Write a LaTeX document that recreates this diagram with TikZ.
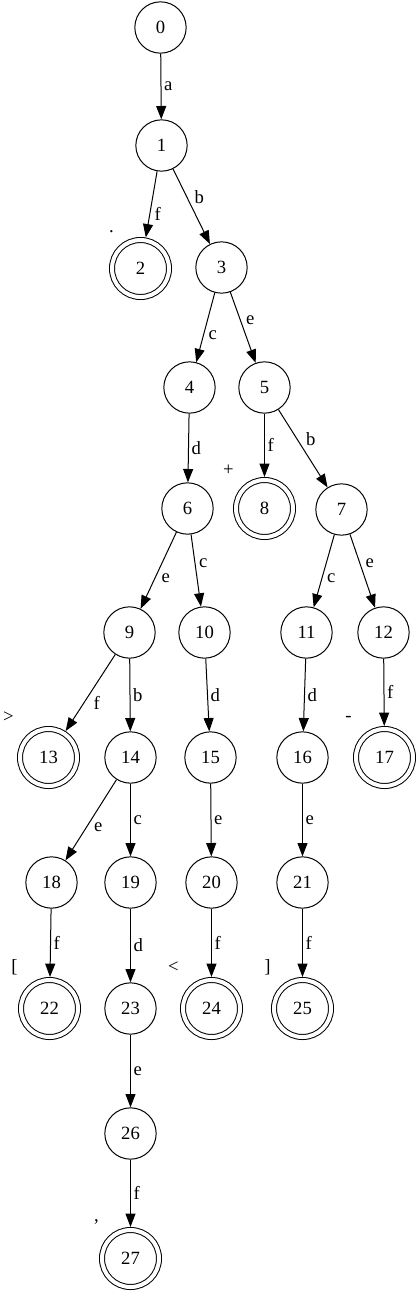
\documentclass[tikz,border=0pt]{standalone}
\usepackage{fontspec}
\setmainfont{Liberation Serif}
\usetikzlibrary{arrows.meta}

\begin{document}
\begin{tikzpicture}[x=0.75pt,y=-0.75pt]
\tikzset{state/.style={circle,draw,line width=0.75pt,minimum size=38.5pt,inner sep=0pt,font=\fontsize{14}{16}\selectfont},
accept/.style={state,double,double distance=3pt,minimum size=42.75pt,outer sep=2.3pt},
trans/.style={line width=0.75pt,-{Triangle[length=10pt,width=7.5pt]}},
lbl/.style={auto,inner sep=2pt,font=\fontsize{14}{16}\selectfont},
tag/.style={inner sep=0pt,font=\fontsize{14}{16}\selectfont}}
\useasboundingbox (0,0) rectangle (420,1296);
\begin{scope}[shift={(0.5,0.5)}]
% states
\node[state](n0) at (160,27){0};
\node[state](n1) at (161,145){1};
\node[accept](n2) at (140,268){2};
\node[state](n3) at (221,267){3};
\node[state](n4) at (189,387){4};
\node[state](n5) at (264,387){5};
\node[state](n6) at (187,508){6};
\node[accept](n8) at (264,508){8};
\node[state](n7) at (341,509){7};
\node[state](n9) at (129,632){9};
\node[state](n10) at (204,632){10};
\node[state](n11) at (306,632){11};
\node[state](n12) at (383,632){12};
\node[accept](n13) at (48,757){13};
\node[state](n14) at (130,757){14};
\node[state](n15) at (210,757){15};
\node[state](n16) at (302,757){16};
\node[accept](n17) at (384,757){17};
\node[state](n18) at (51,882){18};
\node[state](n19) at (130,882){19};
\node[state](n20) at (211,882){20};
\node[state](n21) at (302,882){21};
\node[accept](n22) at (49,1008){22};
\node[state](n23) at (130,1008){23};
\node[accept](n24) at (211,1008){24};
\node[accept](n25) at (302,1008){25};
\node[state](n26) at (130,1133){26};
\node[accept](n27) at (130,1258){27};
% tokens of the final states
\node[tag](t2) at (111,231){.};
\node[tag](t8) at (228,470){+};
\node[tag](t13) at (8,717){>};
\node[tag](t17) at (348,718){-};
\node[tag](t22) at (14,967){[};
\node[tag](t24) at (173,967){<};
\node[tag](t25) at (267,967){]};
\node[tag](t27) at (96,1221){,};
% transitions
\draw[trans](n0) -- node[lbl]{a} (n1);
\draw[trans](n1) -- node[lbl]{f} (n2);
\draw[trans](n1) -- node[lbl]{b} (n3);
\draw[trans](n3) -- node[lbl]{c} (n4);
\draw[trans](n3) -- node[lbl]{e} (n5);
\draw[trans](n4) -- node[lbl]{d} (n6);
\draw[trans](n5) -- node[lbl]{f} (n8);
\draw[trans](n5) -- node[lbl]{b} (n7);
\draw[trans](n6) -- node[lbl]{e} (n9);
\draw[trans](n6) -- node[lbl]{c} (n10);
\draw[trans](n7) -- node[lbl]{c} (n11);
\draw[trans](n7) -- node[lbl]{e} (n12);
\draw[trans](n9) -- node[lbl]{f} (n13);
\draw[trans](n9) -- node[lbl]{b} (n14);
\draw[trans](n10) -- node[lbl]{d} (n15);
\draw[trans](n11) -- node[lbl]{d} (n16);
\draw[trans](n12) -- node[lbl]{f} (n17);
\draw[trans](n14) -- node[lbl]{e} (n18);
\draw[trans](n14) -- node[lbl]{c} (n19);
\draw[trans](n15) -- node[lbl]{e} (n20);
\draw[trans](n16) -- node[lbl]{e} (n21);
\draw[trans](n18) -- node[lbl]{f} (n22);
\draw[trans](n19) -- node[lbl]{d} (n23);
\draw[trans](n20) -- node[lbl]{f} (n24);
\draw[trans](n21) -- node[lbl]{f} (n25);
\draw[trans](n23) -- node[lbl]{e} (n26);
\draw[trans](n26) -- node[lbl]{f} (n27);
\end{scope}
\end{tikzpicture}
\end{document}
